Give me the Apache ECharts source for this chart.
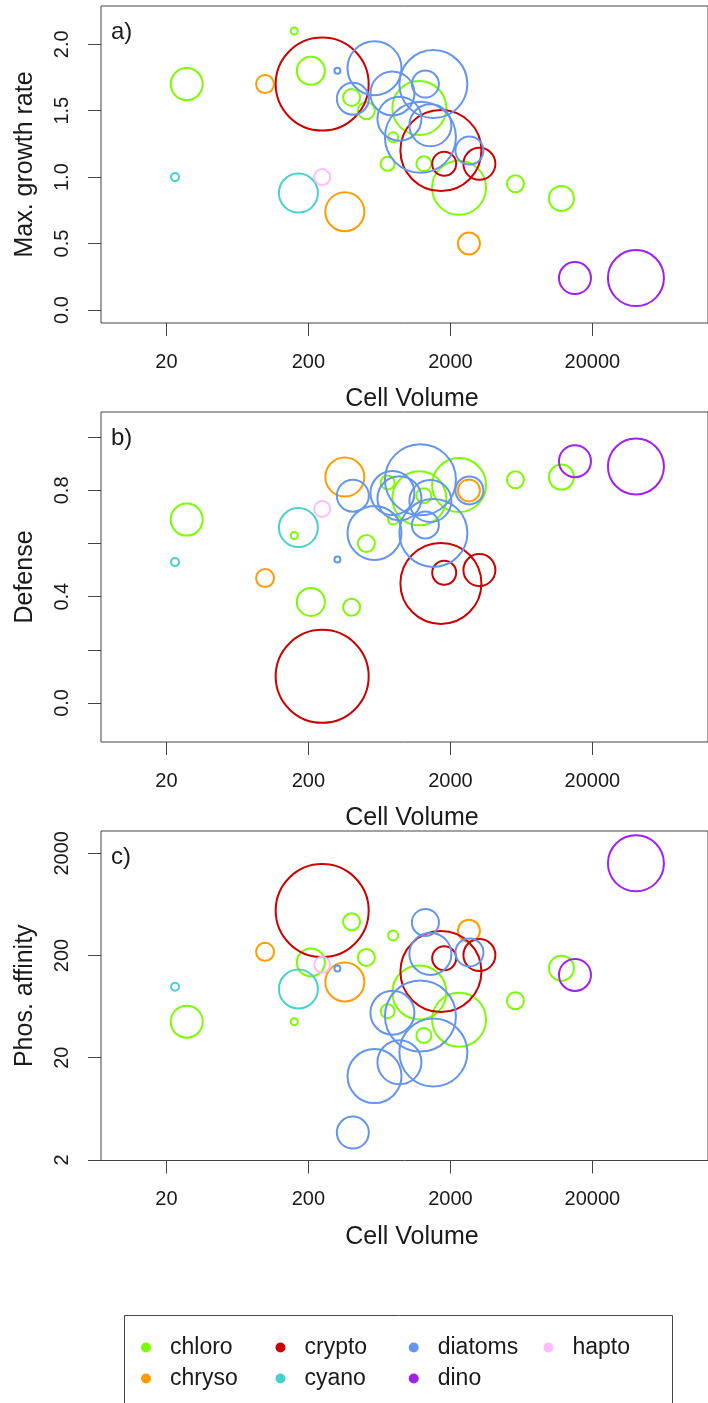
<!DOCTYPE html>
<html>
<head>
<meta charset="utf-8">
<script src="https://cdn.jsdelivr.net/npm/echarts@6/dist/echarts.min.js"></script>
<style>
  html, body { margin: 0; padding: 0; background: #fff; }
  #main { width: 708px; height: 1403px; }
</style>
</head>
<body>
<div id="main"></div>
<script>
// one entry per species, same order in every array
var groups = ['chloro', 'chryso', 'crypto', 'cyano', 'diatoms', 'dino', 'hapto'];
var groupOf = [
  'chloro', 'chloro', 'chloro', 'chloro', 'chloro', 'chloro', 'chloro', 'chloro', 'chloro', 'chloro', 'chloro', 'chloro',
  'chryso', 'chryso', 'chryso',
  'crypto', 'crypto', 'crypto', 'crypto',
  'cyano', 'cyano',
  'diatoms', 'diatoms', 'diatoms', 'diatoms', 'diatoms', 'diatoms', 'diatoms', 'diatoms', 'diatoms', 'diatoms',
  'dino', 'dino',
  'hapto'
];
var cellVolume = [
  27.8, 159, 208, 403, 512, 723, 790, 1208, 1300, 2300, 5740, 12100,
  99, 361, 2700,
  250, 1714, 1808, 3200,
  23, 170,
  320, 411, 584, 781, 875, 1230, 1333, 1445, 1517, 2722,
  15070, 40500,
  250
];
var growthRate = [
  1.70, 2.10, 1.80, 1.60, 1.50, 1.10, 1.30, 1.52, 1.10, 0.92, 0.95, 0.84,
  1.70, 0.74, 0.50,
  1.70, 1.20, 1.10, 1.10,
  1.00, 0.88,
  1.80, 1.59, 1.82, 1.63, 1.44, 1.30, 1.70, 1.39, 1.70, 1.20,
  0.24, 0.24,
  1.00
];
var defense = [
  0.69, 0.63, 0.38, 0.36, 0.60, 0.83, 0.69, 0.77, 0.78, 0.82, 0.84, 0.85,
  0.47, 0.85, 0.80,
  0.10, 0.45, 0.49, 0.50,
  0.53, 0.66,
  0.54, 0.78, 0.64, 0.79, 0.77, 0.84, 0.67, 0.76, 0.64, 0.80,
  0.91, 0.89,
  0.73
];
var phosAffinity = [
  45, 45, 171, 428, 191, 57, 313, 87, 33, 47, 72, 150,
  217, 110, 349,
  550, 139, 188, 202,
  99, 94,
  149, 3.7, 13.2, 55, 18, 51, 421, 207, 22.4, 214,
  129, 1596,
  162
];
var abundance = [
  16, 3.5, 14, 8.5, 8.5, 7, 5, 27, 7.5, 27, 8.5, 12.5,
  9, 19.5, 11,
  46.5, 40.5, 12, 16,
  4, 19.5,
  3, 16, 27, 22, 22, 35.5, 13.5, 21, 34, 14,
  16, 28,
  8
];

var xTicks = [20, 200, 2000, 20000];
var yTicksA = [0, 0.5, 1, 1.5, 2];
var yTicksB = [0, 0.2, 0.4, 0.6, 0.8, 1.0];
var yLabelsB = [0, 0.4, 0.8];
var yTicksC = [2, 20, 200, 2000];

// legend columns, filled top to bottom
var legendCols = [['chloro', 'chryso'], ['crypto', 'cyano'], ['diatoms', 'dino'], ['hapto']];

var colors = {
  chloro: '#7CFC00',
  chryso: '#FF9D00',
  crypto: '#CC0000',
  cyano: '#48D1CC',
  diatoms: '#6495ED',
  dino: '#A020F0',
  hapto: '#FFBBFF'
};

var FONT = 'Liberation Sans';
var INK = '#1a1a1a';

var panels = [
  { label: 'a)', yName: 'Max. growth rate', values: growthRate, top: 6, height: 317,
    yAxis: { type: 'value', min: -0.098, max: 2.288, ticks: yTicksA, labels: yTicksA,
             fmt: function (v) { return v.toFixed(1); } } },
  { label: 'b)', yName: 'Defense', values: defense, top: 412, height: 330,
    yAxis: { type: 'value', min: -0.147, max: 1.095, ticks: yTicksB, labels: yLabelsB,
             fmt: function (v) { return v.toFixed(1); } } },
  { label: 'c)', yName: 'Phos. affinity', values: phosAffinity, top: 831, height: 329.5,
    yAxis: { type: 'log', min: 1.97, max: 3304, ticks: yTicksC, labels: yTicksC,
             fmt: function (v) { return String(Math.round(v)); } } }
];

var grid = [], xAxis = [], yAxis = [], series = [], title = [];

panels.forEach(function (p, i) {
  // the plot box runs on past the right edge of the page
  grid.push({
    left: 101, right: 0, top: p.top, height: p.height,
    show: true, borderColor: '#444', borderWidth: 1, backgroundColor: 'transparent'
  });
  title.push({
    text: p.label, left: 111, top: p.top + 14, padding: 0,
    textStyle: { fontFamily: FONT, fontSize: 24, fontWeight: 'normal', color: INK }
  });
  xAxis.push({
    gridIndex: i, type: 'log', logBase: 10, min: 6.924, max: 130300,
    axisLine: { show: false, onZero: false },
    splitLine: { show: false },
    axisTick: { show: true, inside: false, length: 13, customValues: xTicks,
                lineStyle: { color: '#444', width: 1 } },
    axisLabel: { customValues: xTicks, margin: 29, fontFamily: FONT, fontSize: 20, color: INK,
                 formatter: function (v) { return String(Math.round(v)); } },
    name: 'Cell Volume', nameLocation: 'middle', nameGap: 64,
    nameTextStyle: { fontFamily: FONT, fontSize: 25, color: INK, padding: [0, 0, 0, 15] }
  });
  yAxis.push({
    gridIndex: i, type: p.yAxis.type, min: p.yAxis.min, max: p.yAxis.max,
    axisLine: { show: false, onZero: false },
    splitLine: { show: false },
    axisTick: { show: true, inside: false, length: 13, customValues: p.yAxis.ticks,
                lineStyle: { color: '#444', width: 1 } },
    axisLabel: { customValues: p.yAxis.labels, rotate: 90, margin: 29, fontFamily: FONT, fontSize: 20,
                 color: INK, formatter: p.yAxis.fmt },
    name: p.yName, nameLocation: 'middle', nameGap: 63,
    nameTextStyle: { fontFamily: FONT, fontSize: 25, color: INK }
  });

  groups.forEach(function (g) {
    var data = [];
    for (var k = 0; k < groupOf.length; k++) {
      if (groupOf[k] === g) data.push([cellVolume[k], p.values[k], abundance[k]]);
    }
    series.push({
      name: g, type: 'scatter', xAxisIndex: i, yAxisIndex: i,
      symbol: 'circle',
      symbolSize: function (d) { return d[2] * 2; },
      itemStyle: { color: 'rgba(0,0,0,0)', borderColor: colors[g], borderWidth: 2, opacity: 1 },
      emphasis: { disabled: true },
      silent: true,
      clip: false,
      data: data
    });
  });
});

var legendLeft = [141, 275.5, 408.7, 543.4];
var legend = legendCols.map(function (col, c) {
  return {
    orient: 'vertical', left: legendLeft[c], top: 1336, padding: 0,
    icon: 'circle', itemWidth: 38, itemHeight: 10, itemGap: 8,
    selectedMode: false,
    textStyle: { fontFamily: FONT, fontSize: 23, color: INK },
    data: col.map(function (g) {
      return { name: g, itemStyle: { color: colors[g], borderWidth: 0, opacity: 1 } };
    })
  };
});

var option = {
  animation: false,
  backgroundColor: '#fff',
  title: title,
  grid: grid,
  xAxis: xAxis,
  yAxis: yAxis,
  legend: legend,
  graphic: [{
    type: 'rect', left: 122, top: 1313, silent: true,
    shape: { width: 548, height: 120 },
    style: { fill: 'none', stroke: '#444', lineWidth: 1 }
  }],
  series: series
};

var myChart = echarts.init(document.getElementById('main'), null, { renderer: 'canvas' });
myChart.setOption(option);
</script>
</body>
</html>
